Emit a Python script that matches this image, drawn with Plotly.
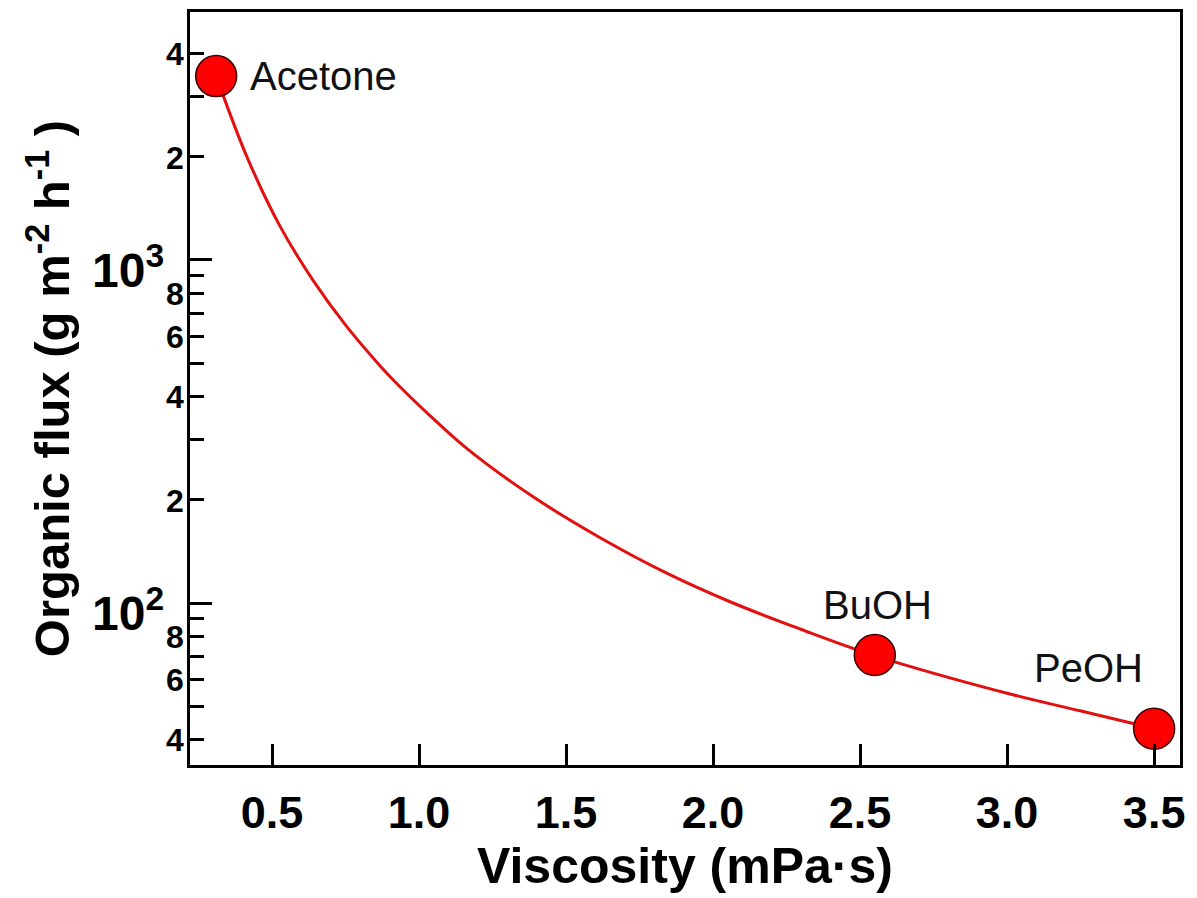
import math
import plotly.graph_objects as go

# ---- data ----
solvents = ["Acetone", "BuOH", "PeOH"]
viscosity = [0.31, 2.55, 3.50]          # mPa·s
flux = [3436, 70.5, 43]                 # g m-2 h-1

# fitted curve
curve_x = [0.31, 0.415, 0.527, 0.639, 0.755, 0.867, 0.935, 1.037, 1.163, 1.388,
           1.616, 1.844, 2.068, 2.296, 2.544, 3.02, 3.248, 3.503]
curve_y = [3436, 1995, 1255, 874, 638, 492, 427, 352, 282, 204,
           155, 122, 100, 84, 70.5, 54, 48.5, 43]

x_ticks = [0.5, 1.0, 1.5, 2.0, 2.5, 3.0, 3.5]
x_ticktext = ["0.5", "1.0", "1.5", "2.0", "2.5", "3.0", "3.5"]
y_label_ticks = [40, 60, 80, 200, 400, 600, 800, 2000, 4000]
y_label_text = ["4", "6", "8", "2", "4", "6", "8", "2", "4"]
y_plain_ticks = [50, 70, 90, 300, 500, 700, 900, 3000]
y_decades = [100, 1000]
decade_text = ["10<sup>2</sup>", "10<sup>3</sup>"]

FONT = "Liberation Sans, Arial, sans-serif"
Y_RANGE = [1.5277, 3.723]

fig = go.Figure()
fig.add_trace(go.Scatter(
    x=curve_x, y=curve_y, mode="lines",
    line=dict(color="#e31010", width=3, shape="spline", smoothing=1.0),
    showlegend=False, hoverinfo="skip"))
fig.add_trace(go.Scatter(
    x=viscosity, y=flux, mode="markers",
    marker=dict(size=41, color="#ff0000", line=dict(color="#3a0000", width=1.5)),
    showlegend=False, cliponaxis=False))

# point labels
label_offsets = {"Acetone": (32, 0, "left"), "BuOH": (3, 50, "center"), "PeOH": (-66, 61, "center")}
for name, xv, yv in zip(solvents, viscosity, flux):
    dx, dy, anc = label_offsets[name]
    fig.add_annotation(x=xv, y=math.log10(yv), text=name, showarrow=False,
                       xanchor=anc, yanchor="middle", xshift=dx, yshift=dy,
                       font=dict(family=FONT, size=40, color="#111111"))

# small y tick labels
for v, t in zip(y_label_ticks, y_label_text):
    fig.add_annotation(x=0, xref="paper", y=math.log10(v), yref="y", text=t,
                       showarrow=False, xanchor="right", yanchor="middle",
                       xshift=-5, yshift=-1, borderpad=0,
                       font=dict(family=FONT, size=32, color="black", weight="bold"))

# decade labels
for v, t in zip(y_decades, decade_text):
    fig.add_annotation(x=0, xref="paper", y=math.log10(v), yref="y", text=t,
                       showarrow=False, xanchor="right", yanchor="middle",
                       xshift=-24, yshift=-7,
                       font=dict(family=FONT, size=48, color="black", weight="bold"))

fig.update_layout(
    width=1197, height=898,
    margin=dict(l=190, r=17, t=12, b=133),
    plot_bgcolor="white", paper_bgcolor="white",
    xaxis=dict(
        range=[0.221, 3.588], tickmode="array", tickvals=x_ticks, ticktext=x_ticktext,
        ticks="inside", ticklen=21, tickwidth=3, tickcolor="black",
        showline=True, linewidth=3, linecolor="black", mirror=True, showgrid=False, zeroline=False,
        tickfont=dict(family=FONT, size=45, color="black", weight="bold"),
        ticklabelstandoff=6, automargin=False,
        title=dict(text="Viscosity (mPa·s)", font=dict(family=FONT, size=50, color="black", weight="bold"),
                   standoff=10)),
    yaxis=dict(
        type="log", range=Y_RANGE, tickmode="array", tickvals=y_decades, showticklabels=False,
        ticks="inside", ticklen=22, tickwidth=3, tickcolor="black",
        minor=dict(tickmode="array", tickvals=y_label_ticks + y_plain_ticks, ticks="inside", ticklen=14,
                   tickwidth=3, tickcolor="black", showgrid=False),
        showline=True, linewidth=3, linecolor="black", mirror=True, showgrid=False, zeroline=False,
        automargin=False,
        title=dict(text="Organic flux (g m<sup>-2</sup> h<sup>-1</sup> )",
                   font=dict(family=FONT, size=49, color="black", weight="bold"), standoff=102)),
)

fig.write_html("out.html")
